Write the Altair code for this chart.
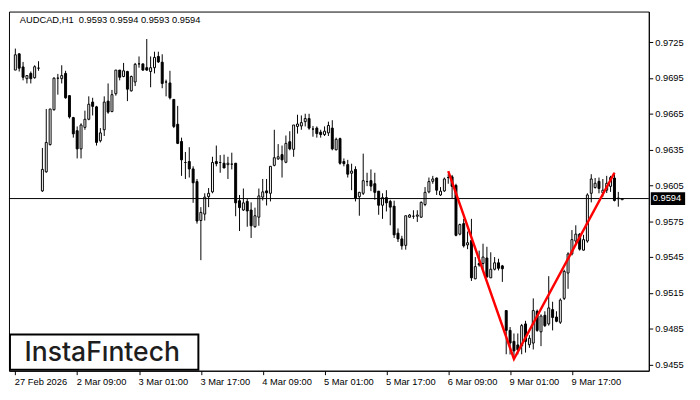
import altair as alt
import pandas as pd

symbol_title = "AUDCAD,H1 \u00a00.9593 0.9594 0.9593 0.9594"
logo_text = "InstaFıntech"

opens = [0.97016, 0.97152, 0.97042, 0.96944, 0.96988, 0.96952, 0.97032, 0.96004, 0.96164, 0.96392,
         0.96684, 0.96948, 0.96944, 0.96988, 0.96802, 0.96618, 0.96508, 0.96356, 0.96536, 0.96604,
         0.96748, 0.96708, 0.96424, 0.96516, 0.96756, 0.96668, 0.96818, 0.97016, 0.96962, 0.97004,
         0.96842, 0.96916, 0.97068, 0.97068, 0.97036, 0.97004, 0.97036, 0.97130, 0.97082, 0.96916,
         0.96908, 0.96770, 0.96562, 0.96418, 0.96242, 0.96250, 0.96188, 0.96082, 0.95756, 0.95810,
         0.95956, 0.95996, 0.96250, 0.96242, 0.96236, 0.96224, 0.96228, 0.96236, 0.95922, 0.95844,
         0.95916, 0.95844, 0.95704, 0.95784, 0.95952, 0.96004, 0.95984, 0.96218, 0.96272, 0.96308,
         0.96244, 0.96416, 0.96352, 0.96544, 0.96548, 0.96584, 0.96610, 0.96522, 0.96530, 0.96496,
         0.96476, 0.96490, 0.96530, 0.96348, 0.96442, 0.96250, 0.96224, 0.96152, 0.96184, 0.95956,
         0.95984, 0.96082, 0.96090, 0.96064, 0.96002, 0.95884, 0.95948, 0.95916, 0.95876, 0.95650,
         0.95602, 0.95548, 0.95784, 0.95792, 0.95792, 0.95784, 0.95890, 0.95996, 0.96084, 0.96112,
         0.95970, 0.96004, 0.96116, 0.96122, 0.96050, 0.95642, 0.95730, 0.95552, 0.95588, 0.95268,
         0.95396, 0.95396, 0.95442, 0.95276, 0.95348, 0.95402, 0.95376, 0.95002, 0.94836, 0.94744,
         0.94714, 0.94706, 0.94890, 0.94716, 0.94730, 0.94996, 0.94824, 0.94962, 0.94890, 0.95010,
         0.94948, 0.94904, 0.95104, 0.95316, 0.95476, 0.95584, 0.95642, 0.95508, 0.95584, 0.95984,
         0.96032, 0.96084, 0.95988, 0.96010, 0.96042, 0.96112, 0.95938, 0.95930]
highs = [0.97196, 0.97156, 0.97084, 0.96970, 0.97004, 0.97056, 0.97090, 0.96364, 0.96690, 0.96690,
         0.96956, 0.96984, 0.97056, 0.97010, 0.96802, 0.96624, 0.96544, 0.96570, 0.96676, 0.96796,
         0.96784, 0.96716, 0.96530, 0.96796, 0.96904, 0.96850, 0.97016, 0.97016, 0.97076, 0.97010,
         0.96970, 0.97076, 0.97130, 0.97068, 0.97276, 0.97130, 0.97170, 0.97170, 0.97148, 0.96936,
         0.97010, 0.96770, 0.96716, 0.96450, 0.96330, 0.96370, 0.96210, 0.96104, 0.95868, 0.95984,
         0.96028, 0.96290, 0.96384, 0.96304, 0.96308, 0.96290, 0.96324, 0.96236, 0.95970, 0.96024,
         0.95936, 0.95908, 0.95864, 0.96024, 0.96104, 0.96104, 0.96210, 0.96516, 0.96396, 0.96384,
         0.96468, 0.96504, 0.96556, 0.96642, 0.96636, 0.96650, 0.96650, 0.96548, 0.96544, 0.96516,
         0.96544, 0.96584, 0.96596, 0.96450, 0.96450, 0.96276, 0.96264, 0.96232, 0.96210, 0.95996,
         0.96316, 0.96156, 0.96184, 0.96156, 0.96002, 0.95984, 0.96010, 0.95930, 0.95922, 0.95690,
         0.95628, 0.95796, 0.95810, 0.95842, 0.95842, 0.95916, 0.96036, 0.96116, 0.96130, 0.96116,
         0.96036, 0.96116, 0.96144, 0.96138, 0.96064, 0.95730, 0.95770, 0.95664, 0.95770, 0.95450,
         0.95504, 0.95562, 0.95536, 0.95490, 0.95450, 0.95436, 0.95384, 0.95002, 0.94864, 0.94810,
         0.94810, 0.94890, 0.94916, 0.94796, 0.95104, 0.95010, 0.94970, 0.94996, 0.95290, 0.95076,
         0.94996, 0.95104, 0.95344, 0.95490, 0.95676, 0.95716, 0.95650, 0.95636, 0.95984, 0.96144,
         0.96112, 0.96116, 0.96104, 0.96130, 0.96130, 0.96156, 0.95996, 0.95940]
lows = [0.97016, 0.97004, 0.96930, 0.96904, 0.96904, 0.96944, 0.97010, 0.95996, 0.96156, 0.96384,
        0.96676, 0.96810, 0.96904, 0.96776, 0.96610, 0.96450, 0.96276, 0.96276, 0.96516, 0.96596,
        0.96636, 0.96384, 0.96410, 0.96464, 0.96650, 0.96664, 0.96802, 0.96930, 0.96956, 0.96756,
        0.96836, 0.96882, 0.97036, 0.97010, 0.97010, 0.96872, 0.96988, 0.97076, 0.96864, 0.96796,
        0.96770, 0.96530, 0.96396, 0.96130, 0.96104, 0.96116, 0.95904, 0.95730, 0.95424, 0.95756,
        0.95868, 0.95984, 0.96210, 0.96156, 0.96196, 0.96104, 0.96184, 0.95792, 0.95668, 0.95836,
        0.95704, 0.95610, 0.95696, 0.95712, 0.95924, 0.95882, 0.95916, 0.96210, 0.96264, 0.96116,
        0.96236, 0.96344, 0.96290, 0.96484, 0.96516, 0.96544, 0.96516, 0.96458, 0.96450, 0.96450,
        0.96464, 0.96464, 0.96344, 0.96344, 0.96224, 0.96210, 0.96116, 0.96010, 0.95916, 0.95796,
        0.95970, 0.96044, 0.96002, 0.95930, 0.95804, 0.95770, 0.95832, 0.95716, 0.95610, 0.95576,
        0.95512, 0.95512, 0.95778, 0.95770, 0.95744, 0.95778, 0.95876, 0.95984, 0.96064, 0.95970,
        0.95962, 0.95996, 0.96064, 0.95944, 0.95624, 0.95632, 0.95530, 0.95516, 0.95250, 0.95264,
        0.95370, 0.95344, 0.95276, 0.95276, 0.95338, 0.95338, 0.95242, 0.94636, 0.94634, 0.94596,
        0.94634, 0.94636, 0.94650, 0.94690, 0.94676, 0.94824, 0.94704, 0.94864, 0.94876, 0.94836,
        0.94904, 0.94890, 0.95090, 0.95184, 0.95464, 0.95556, 0.95504, 0.95504, 0.95570, 0.95908,
        0.96024, 0.95984, 0.95956, 0.95986, 0.95996, 0.95916, 0.95872, 0.95930]
closes = [0.97144, 0.97032, 0.96956, 0.96970, 0.96944, 0.97044, 0.97032, 0.96184, 0.96410, 0.96690,
          0.96948, 0.96948, 0.96970, 0.96784, 0.96624, 0.96482, 0.96356, 0.96556, 0.96604, 0.96730,
          0.96712, 0.96410, 0.96490, 0.96748, 0.96664, 0.96810, 0.97016, 0.96956, 0.97010, 0.96856,
          0.96962, 0.97064, 0.97068, 0.97016, 0.97016, 0.97036, 0.97122, 0.97084, 0.96904, 0.96916,
          0.96784, 0.96544, 0.96402, 0.96264, 0.96242, 0.96188, 0.96072, 0.95752, 0.95824, 0.95952,
          0.95984, 0.96242, 0.96232, 0.96242, 0.96196, 0.96236, 0.96228, 0.95904, 0.95864, 0.95904,
          0.95836, 0.95712, 0.95796, 0.95962, 0.95996, 0.95988, 0.96210, 0.96282, 0.96290, 0.96264,
          0.96402, 0.96356, 0.96556, 0.96564, 0.96576, 0.96610, 0.96530, 0.96522, 0.96484, 0.96476,
          0.96504, 0.96552, 0.96356, 0.96436, 0.96236, 0.96232, 0.96144, 0.96170, 0.95944, 0.95992,
          0.96090, 0.96082, 0.96044, 0.95992, 0.95884, 0.95948, 0.95904, 0.95868, 0.95636, 0.95602,
          0.95544, 0.95796, 0.95802, 0.95792, 0.95802, 0.95908, 0.95992, 0.96082, 0.96104, 0.96010,
          0.96002, 0.96104, 0.96116, 0.96042, 0.95632, 0.95722, 0.95544, 0.95570, 0.95276, 0.95370,
          0.95384, 0.95450, 0.95284, 0.95348, 0.95402, 0.95356, 0.95352, 0.94836, 0.94730, 0.94664,
          0.94674, 0.94876, 0.94744, 0.94770, 0.95002, 0.94836, 0.94956, 0.94876, 0.95024, 0.94944,
          0.94912, 0.95090, 0.95330, 0.95476, 0.95596, 0.95642, 0.95516, 0.95596, 0.95970, 0.96104,
          0.96068, 0.96024, 0.96010, 0.96068, 0.96116, 0.95924, 0.95944, 0.95940]

time_labels = ["27 Feb 2026", "2 Mar 09:00", "3 Mar 01:00", "3 Mar 17:00", "4 Mar 09:00",
               "5 Mar 01:00", "5 Mar 17:00", "6 Mar 09:00", "9 Mar 01:00", "9 Mar 17:00"]
label_positions = [0, 16, 32, 48, 64, 80, 96, 112, 128, 144]
price_ticks = [0.9455, 0.9485, 0.9515, 0.9545, 0.9575, 0.9605, 0.9635, 0.9665, 0.9695, 0.9725]
current_price = 0.9594
current_label = "0.9594"
pattern_idx = [112, 129, 155]
pattern_price = [0.96170, 0.94596, 0.96156]

W, H = 652, 366
FONT = "Liberation Sans"

df = pd.DataFrame({"i": list(range(len(opens))), "o": opens, "h": highs, "l": lows, "c": closes})
df["dir"] = ["up" if c >= o else "down" for o, c in zip(opens, closes)]

# 4 px per candle, candle centres on half pixels for crisp 1px wicks
xscale = alt.Scale(domain=[-0.375, 162.625], nice=False, zero=False)
yscale = alt.Scale(domain=[0.94498, 0.97506], nice=False, zero=False)

label_expr = "[" + ",".join("'" + t + "'" for t in time_labels) + "][round(datum.value / 16)]"

xaxis = alt.Axis(values=label_positions, labelExpr=label_expr, labelAlign="left", tickSize=4,
                 labelPadding=2, labelOffset=-1, grid=False, title=None, labelFlush=False,
                 labelOverlap=False)
yaxis = alt.Axis(orient="right", values=price_ticks, format=".4f", tickSize=4, labelPadding=2,
                 grid=False, title=None, labelOverlap=False)

wicks = alt.Chart(df).mark_rule(color="black", strokeWidth=1).encode(
    x=alt.X("i:Q", scale=xscale, axis=xaxis),
    y=alt.Y("l:Q", scale=yscale, axis=yaxis),
    y2="h:Q",
)

bodies = alt.Chart(df).mark_bar(size=2, stroke="black", strokeWidth=1).encode(
    x=alt.X("i:Q", scale=xscale, axis=xaxis),
    y=alt.Y("o:Q", scale=yscale, axis=yaxis),
    y2="c:Q",
    fill=alt.Fill("dir:N", scale=alt.Scale(domain=["up", "down"], range=["white", "black"]), legend=None),
)

price_df = pd.DataFrame({"p": [current_price], "t": [current_label]})
price_line = alt.Chart(price_df).mark_rule(color="black", strokeWidth=1).encode(
    y=alt.Y("p:Q", scale=yscale, axis=yaxis)
)

pat_df = pd.DataFrame({"i": pattern_idx, "p": pattern_price})
pattern = alt.Chart(pat_df).mark_line(color="#ff0000", strokeWidth=2.5).encode(
    x=alt.X("i:Q", scale=xscale, axis=xaxis),
    y=alt.Y("p:Q", scale=yscale, axis=yaxis),
)

tag_box = alt.Chart(price_df).mark_rule(color="black", strokeWidth=13).encode(
    y=alt.Y("p:Q", scale=yscale, axis=yaxis), x=alt.value(W + 2), x2=alt.value(W + 37)
)
tag_text = alt.Chart(price_df).mark_text(align="left", baseline="middle", color="white",
                                         font=FONT, fontSize=9.5).encode(
    y=alt.Y("p:Q", scale=yscale, axis=yaxis), x=alt.value(W + 4), text="t:N"
)

title_df = pd.DataFrame({"t": [symbol_title]})
title = alt.Chart(title_df).mark_text(align="left", baseline="top", color="black",
                                      font=FONT, fontSize=9.5).encode(
    x=alt.value(11), y=alt.value(4), text="t:N"
)

logo_df = pd.DataFrame({"t": [logo_text]})
logo_box = alt.Chart(logo_df).mark_rect(fill="white", stroke="black", strokeWidth=2).encode(
    x=alt.value(1), x2=alt.value(193), y=alt.value(H - 37), y2=alt.value(H - 1)
)
logo = alt.Chart(logo_df).mark_text(align="center", baseline="middle", color="#1e1e1e",
                                    font="Inter", fontSize=27, fontWeight=500).encode(
    x=alt.value(95), y=alt.value(H - 18), text="t:N"
)

chart = alt.layer(
    wicks, bodies, price_line, pattern, logo_box, logo, title, tag_box, tag_text
).properties(
    width=W, height=H, padding={"left": 0, "top": 0, "right": 0, "bottom": 0}
).configure_view(
    stroke="black", strokeWidth=1
).configure_axis(
    domainColor="black", tickColor="black", labelColor="black",
    labelFont=FONT, labelFontSize=9.5, domainWidth=1, tickWidth=1
)

chart.save("out.html", embed_options={"renderer": "svg", "actions": False})
